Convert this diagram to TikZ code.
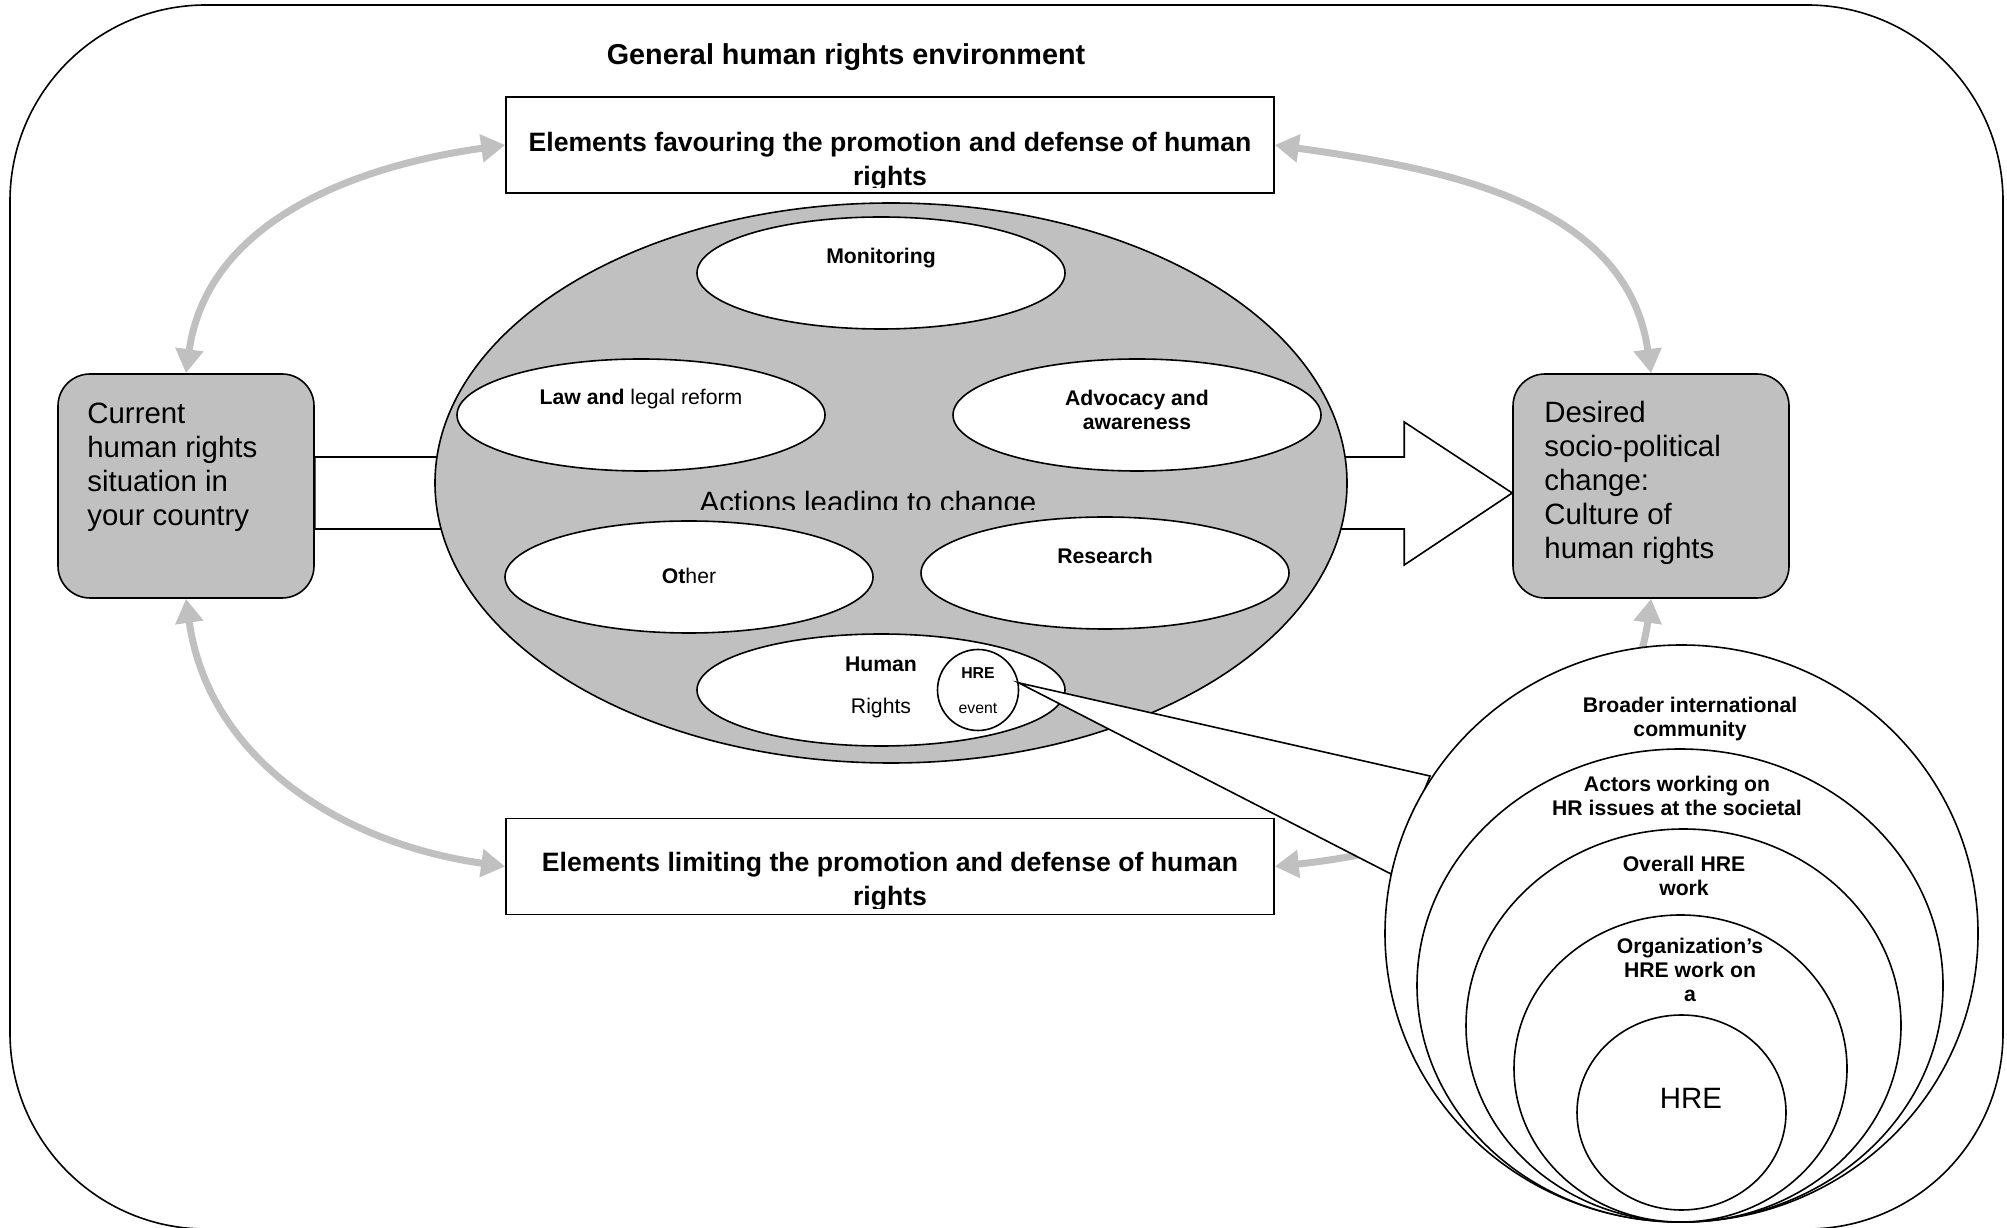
\documentclass[tikz,border=0pt]{standalone}
\usepackage{fontspec}
\setmainfont{Liberation Sans}
\usetikzlibrary{arrows.meta,positioning,shapes.geometric,calc}
\definecolor{shade}{RGB}{192,192,192}
\tikzset{
  >={Triangle[length=12pt,width=13.5pt]},
  panel/.style={draw,fill=shade,line width=0.8pt,rounded corners=16pt,
    minimum width=128pt,minimum height=112pt},
  factor/.style={draw,line width=0.8pt,minimum width=384pt,minimum height=48pt},
  action/.style={ellipse,draw,fill=white,line width=0.8pt,
    minimum width=184pt,minimum height=56pt},
  ring/.style={ellipse,draw,fill=white,line width=0.8pt},
  feedback/.style={<->,line width=3.5pt,draw=shade},
  heading/.style={font=\fontsize{14.4}{16}\selectfont\bfseries},
  factortext/.style={font=\fontsize{13.3}{17}\selectfont\bfseries,align=center,inner sep=0pt},
  bigtext/.style={font=\fontsize{14.7}{17}\selectfont,align=left,inner sep=0pt},
  tag/.style={font=\fontsize{10.6}{12}\selectfont\bfseries,align=center,inner sep=0pt},
  plaintag/.style={font=\fontsize{10.6}{12}\selectfont,align=center,inner sep=0pt},
  tinytag/.style={font=\fontsize{7.9}{9}\selectfont,align=center,inner sep=0pt},
}
\begin{document}
\begin{tikzpicture}[x=0.5pt,y=0.5pt]
  \useasboundingbox (0,0) rectangle (2007,1227);
  \draw[line width=0.8pt,rounded corners=98pt] (10,-2) rectangle (2003,1222);
  \node[heading] (env) at (846,1170) {General human rights environment};

  % situation boxes and environment factors
  \node[panel] (cur) at (186,741) {};
  \node[panel,minimum width=138pt] (des) at (1651,741) {};
  \node[bigtext,anchor=north west] (curtext) at (87,824) {Current\\human rights\\situation in\\your country};
  \node[bigtext,anchor=north west] (destext) at (1544,826) {Desired\\socio-political\\change:\\Culture of\\human rights};
  \node[factor] (fav) at (890,1082) {};
  \node[factor] (lim) at (890,360.5) {};
  \begin{scope}
    \clip ($(fav.south west)+(0,6)$) rectangle (fav.north east);
    \node[factortext] (favtext) at (890,1065) {Elements favouring the promotion and defense of human\\rights};
  \end{scope}
  \begin{scope}
    \clip ($(lim.south west)+(0,7)$) rectangle (lim.north east);
    \node[factortext] (limtext) at (890,345) {Elements limiting the promotion and defense of human\\rights};
  \end{scope}

  % big arrow behind the actions
  \coordinate (tip) at ($(des.west)+(0,-7)$);
  \draw[fill=white,line width=0.8pt] ($(cur.east|-tip)+(0,36)$) -- ($(tip)+(-108,36)$)
    -- ($(tip)+(-108,71)$) -- (tip) -- ($(tip)+(-108,-72)$) -- ($(tip)+(-108,-36)$)
    -- ($(cur.east|-tip)+(0,-36)$) -- cycle;

  % actions leading to change
  \node[ellipse,draw,fill=shade,line width=0.8pt,minimum width=456pt,minimum height=280pt] (acts) at (891,744) {};
  \node[action] (mon) at (881,954) {};
  \node[action] (law) at (641,812) {};
  \node[action] (adv) at (1137,812) {};
  \node[action] (oth) at (689,650) {};
  \node[action] (res) at (1105,654) {};
  \node[action] (hum) at (881,537) {};
  \node[tag] at (881,969) {Monitoring};
  \node[plaintag] at (641,828) {\textbf{Law and} legal reform};
  \node[tag] at (1137,817) {Advocacy and\\awareness};
  \node[plaintag] at (689,651) {\textbf{Ot}her};
  \node[tag] at (1105,671) {Research};
  \node[plaintag] at (881,540) {\textbf{Human}\\[9pt]Rights};
  \begin{scope}
    \clip (600,717) rectangle (1140,760);
    \node[bigtext,anchor=base] (acttext) at (868,714) {Actions leading to change};
  \end{scope}

  % feedback loops
  \draw[feedback] (cur.north) to[out=82,in=188] (fav.west);
  \draw[feedback] (fav.east) to[out=-8,in=98] (des.north);
  \draw[feedback] (cur.south) to[out=-82,in=172] (lim.west);
  \draw[feedback] (des.south) to[out=-98,in=6] (lim.east);

  % zoom onto one event
  \node[circle,draw,fill=white,line width=0.8pt,minimum size=40.5pt] (hre) at (978,537) {};
  \node[tinytag] at (978,536.5) {\textbf{HRE}\\[8.5pt]event};
  \coordinate (wtop) at (1430,451);
  \coordinate (wlow) at (1391,353);
  \draw[fill=white,line width=0.8pt] (hre.10) -- (wtop) -- (wlow) -- cycle;

  \node[ring,minimum width=296.5pt,minimum height=288.5pt] (bic) at (1681.5,293.5) {};
  \node[ring,minimum width=263pt,minimum height=236.5pt] (soc) at (1680,241.5) {};
  \node[ring,minimum width=217.5pt,minimum height=196.5pt] (ovr) at (1683.5,201.5) {};
  \node[ring,minimum width=166.5pt,minimum height=153.5pt] (org) at (1680.5,158.5) {};
  \node[ring,minimum width=104.5pt,minimum height=97.5pt] (evt) at (1681.5,114.5) {};
  \node[tag] at (1690,508) {Broader international\\community};
  \node[tag] at (1677,431) {Actors working on\\HR issues at the societal};
  \node[tag] at (1684,351) {Overall HRE\\work};
  \node[tag] at (1690,257) {Organization’s\\HRE work on\\a};
  \node[bigtext] at (1691,129) {HRE};
\end{tikzpicture}
\end{document}
